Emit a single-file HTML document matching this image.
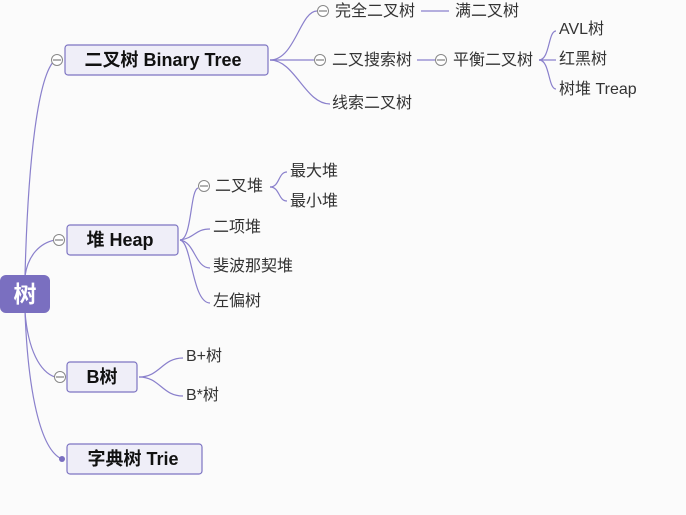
<!DOCTYPE html>
<html><head><meta charset="utf-8"><style>
html,body{margin:0;padding:0;background:#fbfbfb;}
svg{display:block}
text{font-family:"Liberation Sans","Noto Sans CJK SC",sans-serif;}
.l{font-size:16px;fill:#333;}
.b{font-size:18px;font-weight:bold;fill:#111;}
.e{fill:none;stroke:#8a80cc;stroke-width:1.2}
.t{fill:#fff;stroke:#888;stroke-width:1}
.bx{fill:#efeef8;stroke:#7d74c2;stroke-width:1.2}
</style></head><body>
<svg width="686" height="515" viewBox="0 0 686 515">
<path class="e" d="M25,276 C28,160 38,75 55,60"/>
<path class="e" d="M25,276 C28,255 40,243 55,240"/>
<path class="e" d="M25,312 C28,350 40,372 55,377"/>
<path class="e" d="M25,312 C28,390 40,450 62,459"/>
<rect x="0" y="275" width="50" height="38" rx="6" fill="#7a6fc0"/>
<text x="25" y="302" text-anchor="middle" font-size="23" font-weight="bold" fill="#fff" style="font-family:'Liberation Sans','Noto Sans CJK SC',sans-serif">树</text>

<rect class="bx" x="65" y="45" width="203" height="30" rx="3"/>
<text class="b" x="163" y="66" text-anchor="middle">二叉树 Binary Tree</text>
<circle class="t" cx="57" cy="60" r="5.5"/><line x1="53" y1="60" x2="61" y2="60" stroke="#666"/>
<path class="e" d="M270,60 C295,60 300,11 317,11"/>
<path class="e" d="M270,60 L314,60"/>
<path class="e" d="M270,60 C295,60 305,104 330,104"/>
<circle class="t" cx="323" cy="11" r="5.5"/><line x1="319" y1="11" x2="327" y2="11" stroke="#666"/>
<text class="l" x="335" y="16">完全二叉树</text>
<line class="e" x1="421" y1="11" x2="449" y2="11"/>
<text class="l" x="455" y="16">满二叉树</text>
<circle class="t" cx="320" cy="60" r="5.5"/><line x1="316" y1="60" x2="324" y2="60" stroke="#666"/>
<text class="l" x="332" y="65">二叉搜索树</text>
<line class="e" x1="417" y1="60" x2="435" y2="60"/>
<circle class="t" cx="441" cy="60" r="5.5"/><line x1="437" y1="60" x2="445" y2="60" stroke="#666"/>
<text class="l" x="453" y="65">平衡二叉树</text>
<path class="e" d="M539,60 C550,60 548,31 556,31"/>
<path class="e" d="M539,60 L556,60"/>
<path class="e" d="M539,60 C550,60 548,89 556,89"/>
<text class="l" x="559" y="34">AVL树</text>
<text class="l" x="559" y="64">红黑树</text>
<text class="l" x="559" y="94">树堆 Treap</text>
<text class="l" x="332" y="108">线索二叉树</text>

<rect class="bx" x="67" y="225" width="111" height="30" rx="3"/>
<text class="b" x="120" y="246" text-anchor="middle">堆 Heap</text>
<circle class="t" cx="59" cy="240" r="5.5"/><line x1="55" y1="240" x2="63" y2="240" stroke="#666"/>
<path class="e" d="M180,240 C192,240 190,190 198,188"/>
<path class="e" d="M180,240 C195,238 195,229 210,229"/>
<path class="e" d="M180,240 C195,242 195,268 210,268"/>
<path class="e" d="M180,240 C192,242 192,303 210,303"/>
<circle class="t" cx="204" cy="186" r="5.5"/><line x1="200" y1="186" x2="208" y2="186" stroke="#666"/>
<text class="l" x="215" y="191">二叉堆</text>
<path class="e" d="M270,187 C280,187 278,172 287,172"/>
<path class="e" d="M270,187 C280,187 278,201 287,201"/>
<text class="l" x="290" y="176">最大堆</text>
<text class="l" x="290" y="206">最小堆</text>
<text class="l" x="213" y="232">二项堆</text>
<text class="l" x="213" y="271">斐波那契堆</text>
<text class="l" x="213" y="306">左偏树</text>

<rect class="bx" x="67" y="362" width="70" height="30" rx="3"/>
<text class="b" x="102" y="383" text-anchor="middle">B树</text>
<circle class="t" cx="60" cy="377" r="5.5"/><line x1="56" y1="377" x2="64" y2="377" stroke="#666"/>
<path class="e" d="M139,377 C160,377 162,358 183,358"/>
<path class="e" d="M139,377 C160,377 162,396 183,396"/>
<text class="l" x="186" y="361">B+树</text>
<text class="l" x="186" y="400">B*树</text>

<rect class="bx" x="67" y="444" width="135" height="30" rx="3"/>
<text class="b" x="133" y="465" text-anchor="middle">字典树 Trie</text>
<circle cx="62" cy="459" r="3" fill="#7a6fc0"/>
</svg>
</body></html>
